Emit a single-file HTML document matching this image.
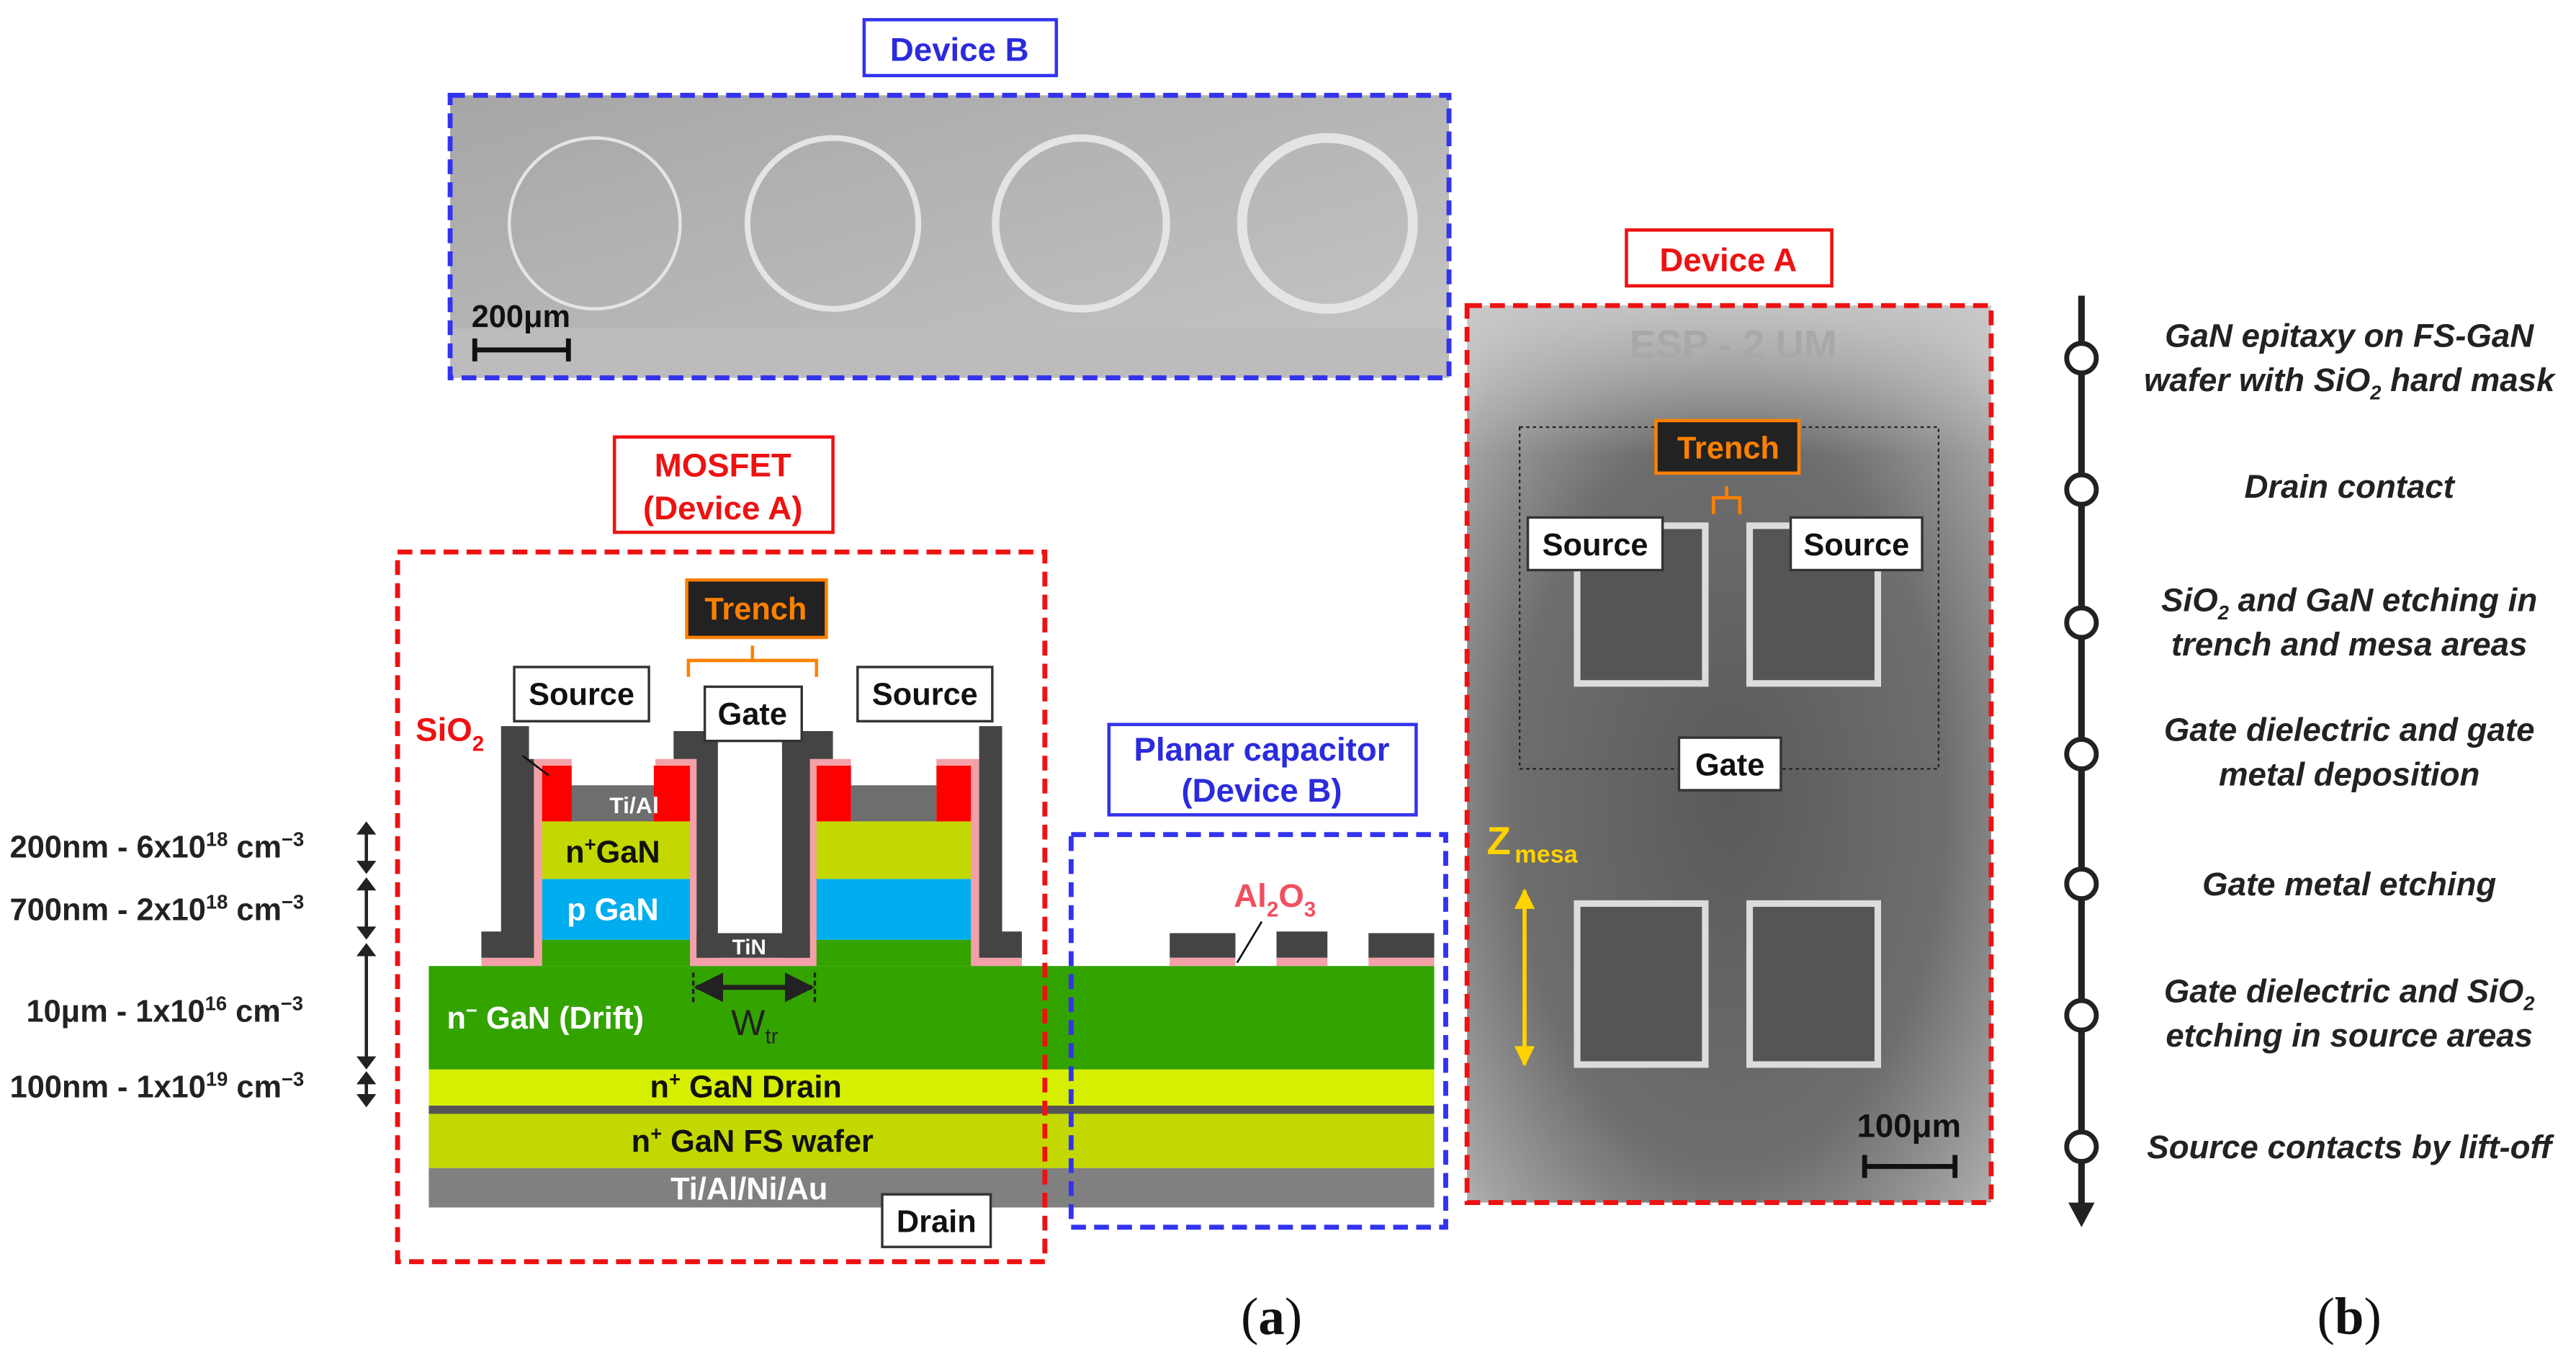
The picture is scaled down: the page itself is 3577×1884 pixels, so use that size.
<!DOCTYPE html>
<html><head><meta charset="utf-8"><style>
html,body{margin:0;padding:0;background:#fff;}
svg{display:block;}
text{font-family:"Liberation Sans",Arial,sans-serif;}
</style></head><body>
<svg width="3577" height="1884" viewBox="0 0 1568 826" preserveAspectRatio="none" xmlns="http://www.w3.org/2000/svg">
<defs>
<linearGradient id="gB" x1="0" y1="0" x2="1" y2="1"><stop offset="0" stop-color="#a6a6a6"/><stop offset="1" stop-color="#c6c6c6"/></linearGradient>
<radialGradient id="gA" cx="0.5" cy="0.55" r="0.75"><stop offset="0" stop-color="#5a5a5a"/><stop offset="0.55" stop-color="#6e6e6e"/><stop offset="0.85" stop-color="#a5a5a5"/><stop offset="1" stop-color="#cfcfcf"/></radialGradient>
<linearGradient id="gTop" x1="0" y1="0" x2="0" y2="1"><stop offset="0" stop-color="#c8c8c8" stop-opacity="0.9"/><stop offset="1" stop-color="#c8c8c8" stop-opacity="0"/></linearGradient>
<marker id="ah" viewBox="0 0 10 10" refX="9" refY="5" markerWidth="6" markerHeight="6" orient="auto-start-reverse"><path d="M0,0L10,5L0,10z" fill="#222"/></marker>
<marker id="ay" viewBox="0 0 10 10" refX="9" refY="5" markerWidth="5" markerHeight="5" orient="auto-start-reverse"><path d="M0,0L10,5L0,10z" fill="#ffd200"/></marker>
</defs>

<!-- Device B top -->
<rect x="526" y="12" width="117" height="34" fill="#fff" stroke="#3333ee" stroke-width="2"/>
<text x="584" y="37" font-size="20" font-weight="bold" fill="#2b2bdd" text-anchor="middle">Device  B</text>
<rect x="274" y="58" width="608" height="172" fill="url(#gB)"/>
<rect x="274" y="200" width="608" height="30" fill="#bcbcbc"/>
<g fill="none" stroke="#e4e4e4">
<circle cx="362" cy="136" r="52" stroke-width="2"/>
<circle cx="507" cy="136" r="52" stroke-width="3.5"/>
<circle cx="658" cy="136" r="52" stroke-width="4.5"/>
<circle cx="808" cy="136" r="52" stroke-width="6"/>
</g>
<rect x="274" y="58" width="608" height="172" fill="none" stroke="#3333ee" stroke-width="3" stroke-dasharray="9,5"/>
<text x="287" y="199" font-size="19" font-weight="bold" fill="#111">200μm</text>
<path d="M289,213H346M289,206V220M346,206V220" stroke="#111" stroke-width="3"/>

<!-- Device A SEM -->
<rect x="990" y="140" width="125" height="34" fill="#fff" stroke="#ee1111" stroke-width="2"/>
<text x="1052" y="165" font-size="20" font-weight="bold" fill="#ee1111" text-anchor="middle">Device  A</text>
<rect x="893" y="186" width="319" height="546" fill="url(#gA)"/>
<rect x="893" y="186" width="319" height="90" fill="url(#gTop)"/>
<text x="1055" y="218" font-size="24" font-weight="bold" fill="#a8a8a8" text-anchor="middle">ESP - 2 UM</text>
<rect x="925" y="260" width="255" height="208" fill="none" stroke="#222" stroke-width="1" stroke-dasharray="2,2"/>
<g fill="#555" stroke="#dcdcdc" stroke-width="4">
<rect x="960" y="320" width="78" height="96"/>
<rect x="1065" y="320" width="78" height="96"/>
<rect x="960" y="550" width="78" height="98"/>
<rect x="1065" y="550" width="78" height="98"/>
</g>
<rect x="1008" y="256" width="87" height="32" fill="#222" stroke="#ff8000" stroke-width="2"/>
<text x="1052" y="279" font-size="19" font-weight="bold" fill="#ff8000" text-anchor="middle">Trench</text>
<path d="M1043,313V303H1059V313M1051,303V296" fill="none" stroke="#ff8000" stroke-width="2"/>
<rect x="930" y="315" width="82" height="32" fill="#fff" stroke="#333" stroke-width="1.5"/>
<text x="971" y="338" font-size="19" font-weight="bold" fill="#111" text-anchor="middle">Source</text>
<rect x="1090" y="315" width="80" height="32" fill="#fff" stroke="#333" stroke-width="1.5"/>
<text x="1130" y="338" font-size="19" font-weight="bold" fill="#111" text-anchor="middle">Source</text>
<rect x="1022" y="449" width="62" height="32" fill="#fff" stroke="#333" stroke-width="1.5"/>
<text x="1053" y="472" font-size="19" font-weight="bold" fill="#111" text-anchor="middle">Gate</text>
<text x="905" y="520" font-size="24" font-weight="bold" fill="#ffd200">Z</text><text x="922" y="525" font-size="15" font-weight="bold" fill="#ffd200">mesa</text>
<line x1="928" y1="542" x2="928" y2="648" stroke="#ffd200" stroke-width="2.5" marker-start="url(#ay)" marker-end="url(#ay)"/>
<text x="1162" y="692" font-size="20" font-weight="bold" fill="#111" text-anchor="middle">100μm</text>
<path d="M1135,710H1190M1135,703V717M1190,703V717" stroke="#111" stroke-width="3"/>
<rect x="893" y="186" width="319" height="546" fill="none" stroke="#ee1111" stroke-width="3" stroke-dasharray="9,5"/>

<!-- Timeline -->
<line x1="1267" y1="180" x2="1267" y2="735" stroke="#222" stroke-width="4"/>
<path d="M1259,732L1275,732L1267,747z" fill="#222"/>
<g fill="#fff" stroke="#222" stroke-width="3">
<circle cx="1267" cy="218" r="9"/><circle cx="1267" cy="298" r="9"/><circle cx="1267" cy="379" r="9"/><circle cx="1267" cy="459" r="9"/><circle cx="1267" cy="538" r="9"/><circle cx="1267" cy="618" r="9"/><circle cx="1267" cy="698" r="9"/>
</g>
<g font-size="20" font-weight="bold" font-style="italic" fill="#222" text-anchor="middle">
<text x="1430" y="211">GaN epitaxy on FS-GaN</text>
<text x="1430" y="238">wafer with SiO<tspan font-size="12" dy="5">2</tspan><tspan dy="-5"> hard mask</tspan></text>
<text x="1430" y="303">Drain contact</text>
<text x="1430" y="372">SiO<tspan font-size="12" dy="5">2</tspan><tspan dy="-5"> and GaN etching in</tspan></text>
<text x="1430" y="399">trench and mesa areas</text>
<text x="1430" y="451">Gate dielectric and gate</text>
<text x="1430" y="478">metal deposition</text>
<text x="1430" y="545">Gate metal etching</text>
<text x="1430" y="610">Gate dielectric and SiO<tspan font-size="12" dy="5">2</tspan></text>
<text x="1430" y="637">etching in source areas</text>
<text x="1430" y="705">Source contacts by lift-off</text>
</g>

<!-- MOSFET -->
<rect x="374" y="266" width="133" height="58" fill="#fff" stroke="#ee1111" stroke-width="2"/>
<text x="440" y="290" font-size="20" font-weight="bold" fill="#ee1111" text-anchor="middle">MOSFET</text>
<text x="440" y="316" font-size="20" font-weight="bold" fill="#ee1111" text-anchor="middle">(Device  A)</text>

<!-- layers -->
<rect x="261" y="588" width="612" height="63" fill="#33a300"/>
<rect x="261" y="651" width="612" height="22" fill="#d6ef00"/>
<rect x="261" y="673" width="612" height="5" fill="#555"/>
<rect x="261" y="678" width="612" height="33" fill="#c2d800"/>
<rect x="261" y="711" width="612" height="24" fill="#808080"/>
<rect x="322" y="572" width="101" height="16" fill="#33a300"/>
<rect x="322" y="535" width="101" height="37" fill="#00aeef"/>
<rect x="322" y="500" width="101" height="35" fill="#c2d800"/>
<rect x="346" y="478" width="54" height="22" fill="#6e6e6e"/>
<rect x="326" y="466" width="22" height="34" fill="#f00"/>
<rect x="398" y="466" width="22" height="34" fill="#f00"/>
<rect x="494" y="572" width="101" height="16" fill="#33a300"/>
<rect x="494" y="535" width="101" height="37" fill="#00aeef"/>
<rect x="494" y="500" width="101" height="35" fill="#c2d800"/>
<rect x="518" y="478" width="52" height="22" fill="#6e6e6e"/>
<rect x="497" y="466" width="21" height="34" fill="#f00"/>
<rect x="570" y="466" width="22" height="34" fill="#f00"/>
<g fill="#f4a0a8">
<path d="M293,583H325V462H348V466H330V588H293z"/>
<path d="M399,462H424V583H493V462H518V466H497V588H420V466H399z"/>
<path d="M570,462H596V583H622V588H591V466H570z"/>
</g>
<g fill="#444">
<path d="M305,442H322V462H325V583H293V567H305z"/>
<path d="M410,445H437V583H424V462H410z"/>
<path d="M476,445H507V462H493V583H476z"/>
<rect x="424" y="568" width="69" height="15"/>
<path d="M596,442H610V567H622V583H596z"/>
</g>
<rect x="437" y="455" width="39" height="113" fill="#fff"/>
<text x="456" y="581" font-size="13" font-weight="bold" fill="#fff" text-anchor="middle">TiN</text>
<text x="386" y="495" font-size="14" font-weight="bold" fill="#fff" text-anchor="middle">Ti/Al</text>
<text x="373" y="525" font-size="19" font-weight="bold" fill="#111" text-anchor="middle">n<tspan font-size="12" dy="-7">+</tspan><tspan dy="7">GaN</tspan></text>
<text x="373" y="560" font-size="19" font-weight="bold" fill="#fff" text-anchor="middle">p GaN</text>
<text x="272" y="626" font-size="19" font-weight="bold" fill="#fff">n<tspan font-size="12" dy="-7">−</tspan><tspan dy="7"> GaN  (Drift)</tspan></text>
<text x="454" y="668" font-size="19" font-weight="bold" fill="#111" text-anchor="middle">n<tspan font-size="12" dy="-7">+</tspan><tspan dy="7"> GaN  Drain</tspan></text>
<text x="458" y="701" font-size="19" font-weight="bold" fill="#111" text-anchor="middle">n<tspan font-size="12" dy="-7">+</tspan><tspan dy="7"> GaN FS wafer</tspan></text>
<text x="456" y="730" font-size="19" font-weight="bold" fill="#fff" text-anchor="middle">Ti/Al/Ni/Au</text>
<path d="M422,592V612M496,592V612" stroke="#222" stroke-width="1.5" stroke-dasharray="3,2"/>
<line x1="424" y1="601" x2="494" y2="601" stroke="#222" stroke-width="3" marker-start="url(#ah)" marker-end="url(#ah)"/>
<text x="445" y="630" font-size="22" fill="#222">W<tspan font-size="13" dy="5">tr</tspan></text>
<rect x="418" y="353" width="85" height="35" fill="#222" stroke="#ff8000" stroke-width="2"/>
<text x="460" y="377" font-size="19" font-weight="bold" fill="#ff8000" text-anchor="middle">Trench</text>
<path d="M419,412V402H497V412M458,402V393" fill="none" stroke="#ff8000" stroke-width="2"/>
<rect x="313" y="406" width="82" height="33" fill="#fff" stroke="#333" stroke-width="1.5"/>
<text x="354" y="429" font-size="19" font-weight="bold" fill="#111" text-anchor="middle">Source</text>
<rect x="522" y="406" width="82" height="33" fill="#fff" stroke="#333" stroke-width="1.5"/>
<text x="563" y="429" font-size="19" font-weight="bold" fill="#111" text-anchor="middle">Source</text>
<rect x="429" y="418" width="59" height="33" fill="#fff" stroke="#333" stroke-width="1.5"/>
<text x="458" y="441" font-size="19" font-weight="bold" fill="#111" text-anchor="middle">Gate</text>
<text x="253" y="451" font-size="20" font-weight="bold" fill="#ee1111">SiO<tspan font-size="13" dy="6">2</tspan></text>
<line x1="318" y1="460" x2="334" y2="472" stroke="#111" stroke-width="1.2"/>
<rect x="537" y="727" width="66" height="32" fill="#fff" stroke="#333" stroke-width="1.5"/>
<text x="570" y="750" font-size="19" font-weight="bold" fill="#111" text-anchor="middle">Drain</text>
<!-- dimension labels -->
<g font-size="19" font-weight="bold" fill="#222">
<text x="6" y="522">200nm - 6x10<tspan font-size="12" dy="-7">18</tspan><tspan dy="7"> cm</tspan><tspan font-size="12" dy="-7">−3</tspan></text>
<text x="6" y="560">700nm - 2x10<tspan font-size="12" dy="-7">18</tspan><tspan dy="7"> cm</tspan><tspan font-size="12" dy="-7">−3</tspan></text>
<text x="16" y="622">10μm - 1x10<tspan font-size="12" dy="-7">16</tspan><tspan dy="7"> cm</tspan><tspan font-size="12" dy="-7">−3</tspan></text>
<text x="6" y="668">100nm - 1x10<tspan font-size="12" dy="-7">19</tspan><tspan dy="7"> cm</tspan><tspan font-size="12" dy="-7">−3</tspan></text>
</g>
<g stroke="#222" stroke-width="2">
<line x1="223" y1="506" x2="223" y2="526"/>
<line x1="223" y1="540" x2="223" y2="566"/>
<line x1="223" y1="580" x2="223" y2="645"/>
<line x1="223" y1="657" x2="223" y2="668"/>
</g>
<g fill="#222">
<path d="M217,508L223,500L229,508z"/><path d="M217,524L223,532L229,524z"/>
<path d="M217,542L223,534L229,542z"/><path d="M217,564L223,572L229,564z"/>
<path d="M217,582L223,574L229,582z"/><path d="M217,643L223,651L229,643z"/>
<path d="M217,660L223,652L229,660z"/><path d="M217,666L223,674L229,666z"/>
</g>
<rect x="242" y="336" width="394" height="432" fill="none" stroke="#ee1111" stroke-width="3" stroke-dasharray="9,5"/>

<!-- planar capacitor -->
<rect x="675" y="441" width="187" height="55" fill="#fff" stroke="#3333ee" stroke-width="2"/>
<text x="768" y="463" font-size="20" font-weight="bold" fill="#2b2bdd" text-anchor="middle">Planar capacitor</text>
<text x="768" y="488" font-size="20" font-weight="bold" fill="#2b2bdd" text-anchor="middle">(Device  B)</text>
<g fill="#444"><rect x="712" y="568" width="40" height="15"/><rect x="777" y="567" width="31" height="16"/><rect x="833" y="568" width="40" height="15"/></g>
<g fill="#f4a0a8"><rect x="712" y="583" width="40" height="5"/><rect x="777" y="583" width="31" height="5"/><rect x="833" y="583" width="40" height="5"/></g>
<text x="776" y="552" font-size="20" font-weight="bold" fill="#f05060" text-anchor="middle">Al<tspan font-size="13" dy="6">2</tspan><tspan dy="-6">O</tspan><tspan font-size="13" dy="6">3</tspan></text>
<line x1="768" y1="561" x2="753" y2="586" stroke="#111" stroke-width="1.2"/>
<rect x="652" y="508" width="228" height="239" fill="none" stroke="#3333ee" stroke-width="3" stroke-dasharray="9,5"/>

<text x="774" y="812" font-size="32" fill="#111" text-anchor="middle" style="font-family:'Liberation Serif',serif">(<tspan font-weight="bold">a</tspan>)</text>
<text x="1430" y="812" font-size="32" fill="#111" text-anchor="middle" style="font-family:'Liberation Serif',serif">(<tspan font-weight="bold">b</tspan>)</text>
</svg>
</body></html>
